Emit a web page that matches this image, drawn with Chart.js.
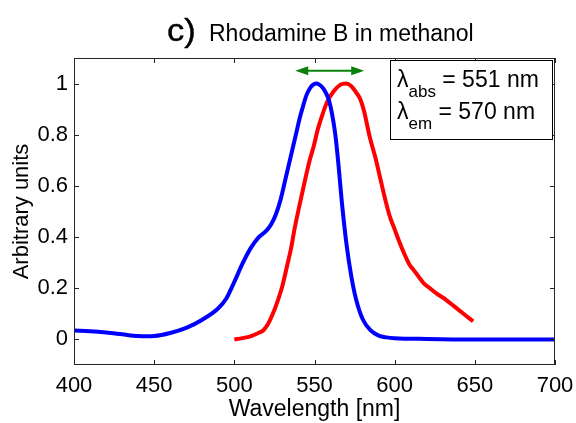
<!DOCTYPE html>
<html>
<head>
<meta charset="utf-8">
<script src="https://cdn.jsdelivr.net/npm/chart.js@4/dist/chart.umd.min.js"></script>
<style>
  html, body { margin: 0; padding: 0; background: #fff; }
  #wrap { width: 576px; height: 423px; }
</style>
</head>
<body>
<div id="wrap"><canvas id="c" width="576" height="423"></canvas></div>
<script>
// ---- data ----
const absWavelength = [400, 410, 420, 430, 440, 445, 450, 460, 470, 480, 490, 495, 500, 505, 510, 515, 520, 523, 526, 529, 532, 535, 538, 541, 543, 545, 547, 549, 551, 553, 555, 557, 559, 561, 563, 565, 567, 570, 573, 576, 580, 585, 590, 595, 600, 620, 650, 700];
const absValues     = [0.035, 0.032, 0.027, 0.02, 0.013, 0.012, 0.013, 0.025, 0.045, 0.077, 0.122, 0.16, 0.225, 0.295, 0.355, 0.398, 0.425, 0.45, 0.49, 0.55, 0.63, 0.71, 0.79, 0.87, 0.915, 0.955, 0.98, 0.995, 1.0, 0.996, 0.985, 0.965, 0.935, 0.88, 0.80, 0.68, 0.54, 0.37, 0.245, 0.155, 0.08, 0.035, 0.015, 0.008, 0.005, 0.002, 0.0, 0.0];

const emWavelength = [500, 505, 510, 515, 518, 521, 524, 527, 530, 533, 535.5, 537.5, 540.5, 544, 547, 549.5, 552, 555, 558, 562, 566, 569.5, 573, 576, 578.5, 581, 584.5, 588, 591, 594, 597, 600, 603, 606, 609, 612, 615, 618, 622, 626, 632, 637, 642, 646, 649];
const emValues     = [0.0, 0.005, 0.012, 0.025, 0.035, 0.06, 0.10, 0.15, 0.21, 0.29, 0.36, 0.43, 0.52, 0.62, 0.70, 0.755, 0.82, 0.88, 0.93, 0.97, 0.995, 1.0, 0.99, 0.965, 0.94, 0.89, 0.79, 0.71, 0.63, 0.55, 0.48, 0.43, 0.38, 0.335, 0.295, 0.27, 0.245, 0.22, 0.20, 0.18, 0.155, 0.13, 0.105, 0.085, 0.071];

const xTickValues = [400, 450, 500, 550, 600, 650, 700];
const yTickValues = [0, 0.2, 0.4, 0.6, 0.8, 1];
const shiftArrowX = [538, 581];
const shiftArrowY = 1.05;
const titleLabel = 'c)';
const titleText = 'Rhodamine B in methanol';
const annotationLines = [
  { sub: 'abs', rest: ' = 551 nm' },
  { sub: 'em',  rest: ' = 570 nm' }
];

const FONT = '"Liberation Sans", Arial, Helvetica, sans-serif';

const toPoints = (xs, ys) => xs.map((v, i) => ({ x: v, y: ys[i] }));

const decorations = {
  id: 'decorations',
  afterDatasetsDraw(chart) {
    const { ctx, chartArea: a, scales: { x, y } } = chart;
    ctx.save();
    // frame
    ctx.strokeStyle = '#262626';
    ctx.lineWidth = 1;
    ctx.strokeRect(Math.round(a.left) + 0.5, Math.round(a.top) + 0.5,
                   Math.round(a.right - a.left) - 1, Math.round(a.bottom - a.top) - 1);
    // inward ticks
    ctx.beginPath();
    const tl = 5;
    xTickValues.forEach(v => {
      const px = Math.round(x.getPixelForValue(v)) + 0.5;
      ctx.moveTo(px, a.bottom); ctx.lineTo(px, a.bottom - tl);
      ctx.moveTo(px, a.top); ctx.lineTo(px, a.top + tl);
    });
    yTickValues.forEach(v => {
      const py = Math.round(y.getPixelForValue(v)) + 0.5;
      ctx.moveTo(a.left, py); ctx.lineTo(a.left + tl, py);
      ctx.moveTo(a.right, py); ctx.lineTo(a.right - tl, py);
    });
    ctx.stroke();

    // double arrow
    const ax1 = x.getPixelForValue(shiftArrowX[0]);
    const ax2 = x.getPixelForValue(shiftArrowX[1]);
    const ay = y.getPixelForValue(shiftArrowY);
    const hl = 13, hw = 4.5;
    ctx.strokeStyle = '#0b800b';
    ctx.fillStyle = '#0b800b';
    ctx.lineWidth = 2;
    ctx.beginPath();
    ctx.moveTo(ax1 + hl - 2, ay); ctx.lineTo(ax2 - hl + 2, ay);
    ctx.stroke();
    ctx.beginPath();
    ctx.moveTo(ax1, ay); ctx.lineTo(ax1 + hl, ay - hw); ctx.lineTo(ax1 + hl, ay + hw); ctx.closePath();
    ctx.moveTo(ax2, ay); ctx.lineTo(ax2 - hl, ay - hw); ctx.lineTo(ax2 - hl, ay + hw); ctx.closePath();
    ctx.fill();

    // annotation box
    const bx = 390.5, by = 60.5, bw = 162, bh = 79;
    ctx.fillStyle = '#fff';
    ctx.fillRect(bx, by, bw, bh);
    ctx.strokeStyle = '#000';
    ctx.lineWidth = 1;
    ctx.strokeRect(bx, by, bw, bh);
    ctx.fillStyle = '#000';
    ctx.textBaseline = 'alphabetic';
    ctx.textAlign = 'left';
    const baselines = [87, 119];
    annotationLines.forEach((ln, i) => {
      let tx = 397;
      ctx.font = '23px ' + FONT;
      ctx.fillText('λ', tx, baselines[i]);
      tx += ctx.measureText('λ').width;
      ctx.font = '17px ' + FONT;
      ctx.fillText(ln.sub, tx, baselines[i] + 10);
      tx += ctx.measureText(ln.sub).width;
      ctx.font = '23px ' + FONT;
      ctx.fillText(ln.rest, tx, baselines[i]);
    });

    // title
    ctx.save();
    ctx.translate(167, 41);
    ctx.scale(1.08, 1);
    ctx.font = '32px ' + FONT;
    ctx.lineWidth = 0.4;
    ctx.strokeStyle = '#000';
    ctx.fillText(titleLabel, 0, 0);
    ctx.strokeText(titleLabel, 0, 0);
    ctx.restore();
    ctx.font = '23px ' + FONT;
    ctx.fillText(titleText, 209, 41);
    ctx.restore();
  }
};

new Chart(document.getElementById('c'), {
  type: 'line',
  data: {
    datasets: [
      {
        label: 'Absorption',
        data: toPoints(absWavelength, absValues),
        borderColor: '#0000ff',
        borderWidth: 4,
        pointRadius: 0,
        cubicInterpolationMode: 'monotone',
        fill: false
      },
      {
        label: 'Emission',
        data: toPoints(emWavelength, emValues),
        borderColor: '#ff0000',
        borderWidth: 4,
        pointRadius: 0,
        cubicInterpolationMode: 'monotone',
        fill: false
      }
    ]
  },
  options: {
    responsive: false,
    animation: false,
    devicePixelRatio: 1,
    layout: { padding: { top: 58, right: 21, left: 0, bottom: 0 } },
    plugins: { legend: { display: false }, tooltip: { enabled: false }, title: { display: false } },
    scales: {
      x: {
        type: 'linear',
        min: 400, max: 700,
        afterFit: s => { s.height = 58; s.paddingLeft = 0; s.paddingRight = 0; },
        afterBuildTicks: s => { s.ticks = xTickValues.map(v => ({ value: v })); },
        grid: { display: false, drawTicks: false },
        border: { display: false },
        ticks: { color: '#000', padding: 8, font: { family: FONT, size: 22 }, maxRotation: 0, autoSkip: false,
                 callback: v => String(v) },
        title: { display: true, text: 'Wavelength [nm]', color: '#000',
                 font: { family: FONT, size: 23, lineHeight: 1 }, padding: { top: 0, bottom: 2 } }
      },
      y: {
        type: 'linear',
        min: -0.1, max: 1.1,
        afterFit: s => { s.width = 74; s.paddingTop = 0; s.paddingBottom = 0; },
        afterBuildTicks: s => { s.ticks = yTickValues.map(v => ({ value: v })); },
        grid: { display: false, drawTicks: false },
        border: { display: false },
        ticks: { color: '#000', padding: 6, font: { family: FONT, size: 22 }, autoSkip: false,
                 callback: v => String(Math.round(v * 10) / 10) },
        title: { display: true, text: 'Arbitrary units', color: '#000',
                 font: { family: FONT, size: 22, lineHeight: 1 }, padding: { top: 11, bottom: 0 } }
      }
    }
  },
  plugins: [decorations]
});
</script>
</body>
</html>
